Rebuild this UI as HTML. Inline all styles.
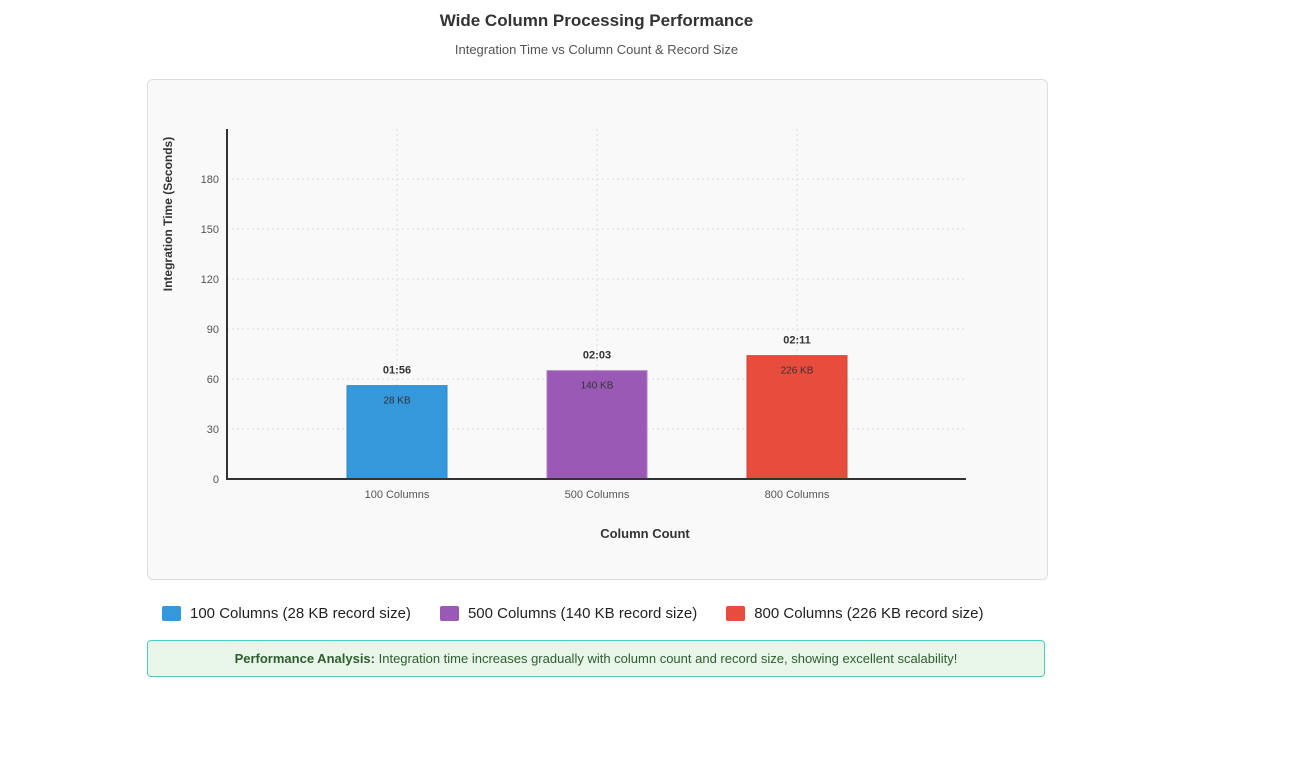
<!DOCTYPE html>
<html><head><meta charset="utf-8"><style>
body{margin:0;width:1293px;height:759px;background:#fff;font-family:"Liberation Sans",Arial,sans-serif;position:relative;overflow:hidden}
.t{position:absolute;white-space:nowrap}
</style></head><body>
<div class="t" style="left:0;width:1193px;text-align:center;top:11px;font-size:17px;font-weight:bold;color:#333">Wide Column Processing Performance</div>
<div class="t" style="left:0;width:1193px;text-align:center;top:42px;font-size:13px;color:#555">Integration Time vs Column Count &amp; Record Size</div>
<div style="position:absolute;left:147px;top:79px;width:899px;height:499px;background:#f9f9f9;border:1px solid #ddd;border-radius:6px"></div>
<svg id="chart" width="1293" height="600" style="position:absolute;left:0;top:0"></svg>
<div style="position:absolute;top:605px;left:162px;font-size:15px;color:#222;display:flex;gap:0">
<div style="display:flex;align-items:center;margin-right:29px"><span style="width:19px;height:15px;background:#3498db;border-radius:2px;margin-right:9px;display:inline-block"></span>100 Columns (28 KB record size)</div>
<div style="display:flex;align-items:center;margin-right:29px"><span style="width:19px;height:15px;background:#9b59b6;border-radius:2px;margin-right:9px;display:inline-block"></span>500 Columns (140 KB record size)</div>
<div style="display:flex;align-items:center"><span style="width:19px;height:15px;background:#e74c3c;border-radius:2px;margin-right:9px;display:inline-block"></span>800 Columns (226 KB record size)</div>
</div>
<div style="position:absolute;left:147px;top:640px;width:896px;height:35px;background:#e8f5e9;border:1px solid #4ecdc4;border-radius:4px;font-size:13px;color:#2e5e2e;text-align:center;line-height:35px"><b>Performance Analysis:</b> Integration time increases gradually with column count and record size, showing excellent scalability!</div>
<script>
const categories=["100 Columns","500 Columns","800 Columns"];
const values=[56,65,74];
const timeLabels=["01:56","02:03","02:11"];
const sizeLabels=["28 KB","140 KB","226 KB"];
const colors=["#3498db","#9b59b6","#e74c3c"];
const strokes=["#2e86c1","#b07cc6","#cb4335"];
const yTicks=[0,30,60,90,120,150,180];
const NS="http://www.w3.org/2000/svg";
const svg=document.getElementById("chart");
const x0=227,x1=966,y0=479,yTop=129,yMax=210;
const y=v=>y0-(v/yMax)*(y0-yTop);
const xc=i=>397+i*200;
function mk(tag,attrs,txt){const e=document.createElementNS(NS,tag);for(const k in attrs)e.setAttribute(k,attrs[k]);if(txt!==undefined)e.textContent=txt;svg.appendChild(e);return e;}
yTicks.forEach(t=>{
 const g=mk("line",{x1:x0,x2:x1,y1:y(t),y2:y(t),stroke:"#ddd","stroke-dasharray":"2,3"});
 
 
 const l=mk("text",{x:219,y:y(t)+4,"text-anchor":"end","font-size":11,fill:"#555"},t);
 
 
});
categories.forEach((c,i)=>{
 const g=mk("line",{x1:xc(i),x2:xc(i),y1:yTop,y2:y0,stroke:"#ddd","stroke-dasharray":"2,3"});
 
 
});
categories.forEach((c,i)=>{
 const b=mk("rect",{x:xc(i)-50,y:y(values[i]),width:100,height:y0-y(values[i]),fill:colors[i],stroke:strokes[i],"stroke-width":1});
 
 
 const t=mk("text",{x:xc(i),y:y(values[i])-12,"text-anchor":"middle","font-size":11,"font-weight":"bold",fill:"#333"},timeLabels[i]);
 
 
 const s=mk("text",{x:xc(i),y:y(values[i])+18,"text-anchor":"middle","font-size":10,fill:"#333"},sizeLabels[i]);
 
 
 const xl=mk("text",{x:xc(i),y:498,"text-anchor":"middle","font-size":11,fill:"#555"},c);
 
 
});
const ya=mk("line",{x1:x0,x2:x0,y1:yTop,y2:y0+1,stroke:"#333","stroke-width":2});


const xa=mk("line",{x1:x0-1,x2:x1,y1:y0,y2:y0,stroke:"#333","stroke-width":2});


const xt=mk("text",{x:645,y:538,"text-anchor":"middle","font-size":13,"font-weight":"bold",fill:"#333"},"Column Count");


const yt=mk("text",{x:0,y:0,"text-anchor":"middle","font-size":12,"font-weight":"bold",fill:"#333",transform:"translate(172,214) rotate(-90)"},"Integration Time (Seconds)");


</script>
</body></html>
